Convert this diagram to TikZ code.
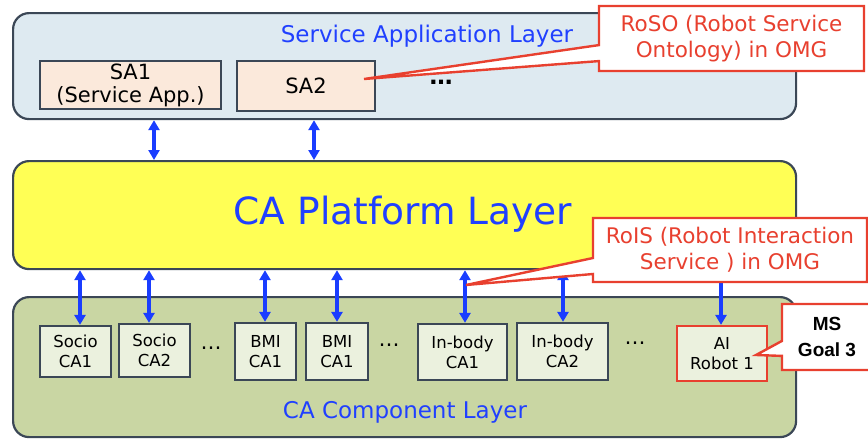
\documentclass[tikz,border=0pt]{standalone}
\usepackage{fontspec}
\setmainfont{DejaVu Sans}
\newfontfamily\msfont{Liberation Sans}
\usetikzlibrary{shapes.callouts,arrows.meta}
\definecolor{laybord}{HTML}{3B4756}
\definecolor{safill}{HTML}{DEEAF1}
\definecolor{plfill}{HTML}{FFFF55}
\definecolor{cafill}{HTML}{C9D6A3}
\definecolor{boxfill}{HTML}{FBE9DB}
\definecolor{compfill}{HTML}{EBF1DE}
\definecolor{txtblue}{HTML}{2040FF}
\definecolor{calred}{HTML}{E8402F}
\definecolor{arrblue}{HTML}{1A3DFF}
\begin{document}
\begin{tikzpicture}[x=1pt,y=-1pt,
  layer/.style={draw=laybord, line width=2.2pt, rounded corners=16pt, inner sep=0pt, anchor=north west},
  laytitle/.style={text=txtblue, font=\fontsize{23}{27}\selectfont, inner sep=0pt},
  sabox/.style={draw=laybord, line width=2.2pt, fill=boxfill, inner sep=0pt, align=center, font=\fontsize{21}{23}\selectfont},
  comp/.style={draw=laybord, line width=2.2pt, fill=compfill, inner sep=0pt, align=center, font=\fontsize{16.5}{20}\selectfont},
  dbl/.style={{Triangle[length=10pt,width=11pt]}-{Triangle[length=10pt,width=11pt]}, draw=arrblue, line width=3.2pt},
  callred/.style={rectangle callout, draw=calred, fill=white, line width=2.4pt, text=calred, align=center, inner sep=0pt, callout pointer width=16pt, font=\fontsize{21.5}{26}\selectfont},
  dots/.style={inner sep=0pt, font=\fontsize{21}{22}\selectfont}
]
\useasboundingbox (0,0) rectangle (868,439);
% layers
\node[layer, fill=safill, minimum width=783pt, minimum height=106pt] (sal) at (12,12) {};
\node[layer, fill=plfill, minimum width=783pt, minimum height=108pt] (pl) at (12,160) {};
\node[layer, fill=cafill, minimum width=783pt, minimum height=140pt] (cal) at (12,296) {};
\node[laytitle] (saltitle) at (427,36) {Service Application Layer};
\node[text=txtblue, font=\fontsize{37.5}{42}\selectfont, inner sep=0pt] (pltitle) at (403,214) {CA Platform Layer};
\node[laytitle] (caltitle) at (405,412) {CA Component Layer};
% service apps
\node[sabox, minimum width=181pt, minimum height=48pt] (sa1) at (130.5,85) {SA1\\(Service App.)};
\node[sabox, minimum width=138pt, minimum height=50pt] (sa2) at (306,86) {SA2};
\node[dots, font=\bfseries\fontsize{23}{24}\selectfont] (sadots) at (441,82) {\ldots};
% components
\node[comp, minimum width=71pt, minimum height=51pt] (soc1) at (75.5,351.5) {Socio\\CA1};
\node[comp, minimum width=71pt, minimum height=53pt] (soc2) at (154.5,350.5) {Socio\\CA2};
\node[dots] (d1) at (211,348) {\ldots};
\node[comp, minimum width=61pt, minimum height=57pt] (bmi1) at (265.5,351.5) {BMI\\CA1};
\node[comp, minimum width=62pt, minimum height=57pt] (bmi2) at (337,351.5) {BMI\\CA1};
\node[dots] (d2) at (389,345) {\ldots};
\node[comp, minimum width=89pt, minimum height=56pt] (inb1) at (462.5,352) {In-body\\CA1};
\node[comp, minimum width=91pt, minimum height=57pt] (inb2) at (562.5,351.5) {In-body\\CA2};
\node[dots] (d3) at (635,343) {\ldots};
\node[comp, draw=calred, minimum width=90pt, minimum height=55pt] (ai) at (722,353.5) {AI\\Robot 1};
% arrows
\draw[dbl] (154,0 |- sal.south) -- (154,0 |- pl.north);
\draw[dbl] (314,0 |- sal.south) -- (314,0 |- pl.north);
\draw[dbl] (80,0 |- pl.south) -- (80,0 |- soc1.north);
\draw[dbl] (149,0 |- pl.south) -- (149,0 |- soc2.north);
\draw[dbl] (265,0 |- pl.south) -- (265,0 |- bmi1.north);
\draw[dbl] (337,0 |- pl.south) -- (337,0 |- bmi2.north);
\draw[dbl] (465,0 |- pl.south) -- (465,0 |- inb1.north);
\draw[dbl] (563,0 |- pl.south) -- (563,0 |- inb2.north);
\draw[dbl] (721,0 |- pl.south) -- (721,0 |- ai.north);
% callouts
\coordinate (rosotip) at (364,79);
\coordinate (roistip) at (466,285);
\coordinate (mstip) at (756,355);
\node[callred, minimum width=265pt, minimum height=65pt, callout absolute pointer={(rosotip)}] (roso) at (731.5,38.5) {RoSO (Robot Service\\Ontology) in OMG};
\node[callred, minimum width=274pt, minimum height=64pt, callout absolute pointer={(roistip)}] (rois) at (730,250) {RoIS (Robot Interaction\\Service ) in OMG};
\node[callred, text=black, minimum width=90pt, minimum height=66pt, callout pointer width=15pt, font=\msfont\bfseries\fontsize{19}{26}\selectfont, callout absolute pointer={(mstip)}] (ms) at (827,337) {MS\\Goal 3};
\end{tikzpicture}
\end{document}
